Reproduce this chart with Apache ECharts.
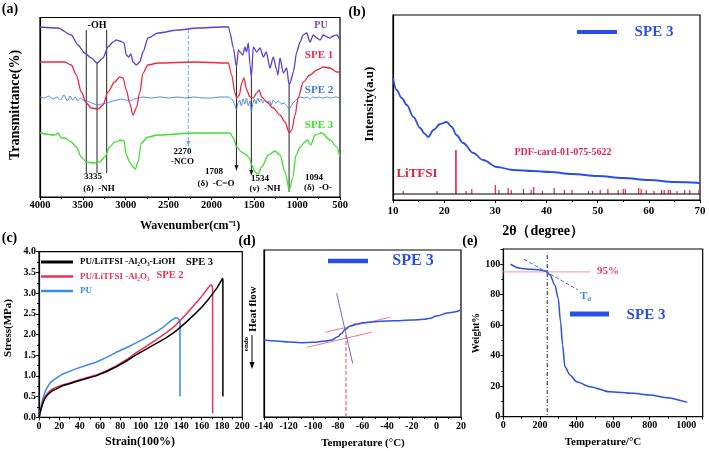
<!DOCTYPE html>
<html><head><meta charset="utf-8">
<script src="https://cdn.jsdelivr.net/npm/echarts@6/dist/echarts.min.js"></script>
<style>html,body{margin:0;padding:0;background:#fff}#c{width:709px;height:451px}</style>
</head><body><div id="c"></div>
<script>
// ---------------- (a) FTIR: [wavenumber cm-1, relative transmittance] ----------------
const ftirPU = [[4000,173],[3790,172],[3635,165],[3557,155],[3479,147],[3401,142],[3335,137],[3265,142],[3207,153],[3148,158],[3109,160],[3070,159],[3020,157],[2993,145],[2965,143],[2940,146],[2915,138],[2876,135],[2837,138],[2798,148],[2740,162],[2623,167],[2390,170],[2156,172],[1900,173],[1800,173],[1783,167],[1744,152],[1708,133],[1686,150],[1667,148],[1635,145],[1608,153],[1590,148],[1569,157],[1550,135],[1534,123],[1511,153],[1472,148],[1433,152],[1394,143],[1360,148],[1317,132],[1278,143],[1239,130],[1225,125],[1200,142],[1161,127],[1122,132],[1094,115],[1083,117],[1044,128],[1005,148],[966,158],[930,165],[889,167],[850,158],[811,165],[770,162],[733,160],[694,165],[650,163],[617,162],[580,164],[538,165],[500,160]];
const ftirSPE1 = [[4000,138],[3712,138],[3635,135],[3576,125],[3518,108],[3460,97],[3401,92],[3323,91],[3265,95],[3207,108],[3129,118],[3070,123],[3031,122],[2993,110],[2954,97],[2915,85],[2876,92],[2837,107],[2798,127],[2740,135],[2623,137],[2200,138],[1803,137],[1764,125],[1725,107],[1705,102],[1674,105],[1647,117],[1620,122],[1589,110],[1550,103],[1511,102],[1472,107],[1444,110],[1413,103],[1355,98],[1278,92],[1200,85],[1142,78],[1091,67],[1063,70],[1024,85],[986,103],[928,118],[850,125],[771,130],[694,133],[617,132],[538,128],[500,128]];
const ftirSPE2 = [[4000,103],[3950,102],[3900,104],[3850,101],[3800,103],[3760,100],[3720,105],[3680,99],[3650,104],[3620,100],[3590,103],[3560,99],[3530,102],[3500,100],[3450,99],[3400,97],[3335,95],[3280,96],[3220,97],[3150,99],[3100,100],[3050,101],[3000,100],[2950,99],[2900,101],[2850,102],[2800,103],[2700,102],[2600,103],[2500,102],[2400,103],[2300,102],[2200,103],[2100,102],[2000,102],[1900,103],[1800,103],[1760,101],[1730,96],[1708,90],[1690,97],[1670,100],[1650,94],[1630,101],[1610,96],[1590,102],[1570,94],[1550,99],[1534,88],[1515,97],[1500,101],[1480,96],[1460,102],[1440,98],[1420,101],[1400,97],[1380,100],[1350,98],[1320,99],[1300,95],[1280,100],[1250,97],[1220,99],[1180,96],[1150,97],[1120,94],[1094,91],[1070,94],[1040,98],[1000,101],[960,103],[920,102],[880,103],[850,101],[820,103],[780,102],[750,103],[700,102],[650,103],[600,102],[550,103],[500,102]];
const ftirSPE3 = [[4000,67],[3829,65],[3790,67],[3751,62],[3712,62],[3635,58],[3576,53],[3518,43],[3460,38],[3362,37],[3304,38],[3245,43],[3187,53],[3129,58],[3051,60],[3020,59],[2993,45],[2954,38],[2915,33],[2888,31],[2856,38],[2818,57],[2740,63],[2623,65],[2200,67],[1783,67],[1744,62],[1705,53],[1647,48],[1589,45],[1558,42],[1530,35],[1491,28],[1453,26],[1413,33],[1336,45],[1258,49],[1200,45],[1142,28],[1091,10],[1052,22],[1013,45],[966,53],[908,58],[881,60],[842,55],[791,65],[713,67],[617,60],[538,53],[500,43]];
const ftirPeaks = [1708, 1534, 1094];

// ---------------- (b) XRD ----------------
const xrdSPE3 = [[10,122],[10.7,110],[11.7,102],[12.7,95],[14,83],[15.3,72],[16.25,66],[16.9,63],[17.9,70],[19.2,76],[20.5,78],[21.5,73],[22.4,65],[23.7,57],[25.7,47],[27.6,40],[30.3,33],[33.5,30],[37.4,29],[40.7,28],[45,26],[50,24],[55,22],[60,20],[65,18],[70,17]];
const pdfPos = [12.0,18.6,22.3,24.3,25.4,30.0,30.7,32.5,33.1,35.5,37.0,37.5,39.2,41.5,43.5,45.0,48.2,49.0,50.5,52.0,54.0,55.0,55.4,58.0,58.5,59.5,61.0,62.5,63.0,63.8,64.2,65.5,67.0,68.0,69.8];
const pdfTop = [9,9,50,9,11,15,10,12,10,11,10,13,9,12,10,10,9,9,10,11,10,11,11,12,11,10,9,10,10,10,10,9,10,10,10];
const pdfBase = 6;

// ---------------- (c) stress-strain ----------------
const ssPU = [[0,0],[1,0.14],[2,0.26],[3.5,0.42],[5,0.55],[7,0.67],[10,0.8],[13,0.88],[16.7,0.94],[23,1.04],[30,1.11],[36,1.17],[46,1.25],[56,1.33],[66,1.44],[76,1.57],[86,1.68],[95,1.79],[105,1.92],[115,2.06],[122,2.17],[128,2.3],[132,2.37],[135,2.41],[137.5,2.37],[138.7,2.3],[138.7,0.5]];
const ssSPE2 = [[0,0],[1,0.1],[2,0.2],[3.5,0.34],[5,0.45],[7,0.54],[10,0.62],[13,0.68],[16.7,0.72],[23,0.78],[30,0.83],[36,0.88],[46,0.95],[56,1.02],[66,1.12],[76,1.24],[86,1.39],[95,1.55],[105,1.71],[115,1.87],[125,2.04],[134,2.21],[144,2.47],[154,2.75],[160,2.92],[165,3.08],[168,3.18],[170,3.2],[170.8,3.1],[170.8,0.1]];
const ssSPE3 = [[0,0],[1,0.1],[2,0.2],[3.5,0.32],[5,0.42],[7,0.5],[10,0.58],[13,0.64],[16.7,0.68],[23,0.76],[30,0.81],[36,0.86],[46,0.93],[56,1.0],[66,1.1],[76,1.22],[86,1.36],[95,1.5],[105,1.64],[115,1.78],[125,1.92],[134,2.07],[144,2.28],[154,2.51],[160,2.66],[167,2.86],[175,3.12],[180.7,3.36],[180.9,3.3],[180.9,0.5]];

// ---------------- (d) DSC ----------------
const dscSPE3 = [[-140,77],[-130,76],[-120,75],[-110,74.3],[-100,74.7],[-90,76],[-85,77],[-80,80.3],[-77,83.7],[-74,87.7],[-70,91],[-65,93],[-60,94.3],[-50,95.3],[-40,96],[-30,96.3],[-20,97],[-10,97.7],[-5,98.7],[0,101],[10,104.3],[20,107]];
const dscTangentHigh = [[-90.5,84.7],[-37.7,99.7]];
const dscTangentLow = [[-105.3,69.7],[-52.6,84.7]];
const dscSlope = [[-81,123.7],[-68,53.7]];
const dscTg = -73.4;

// ---------------- (e) TGA ----------------
const tgaSPE3 = [[40,100],[91,97.4],[146,96.7],[200,96.3],[233,95.6],[255,93],[282,86.4],[300,77.7],[313,62.3],[324,47],[337,32.8],[364,27.4],[400,23],[473,19.7],[582,16.4],[709,15.3],[800,14.2],[891,12.5],[1006,9.4]];
const tga95 = 95;
const tgaTd = 240;
const tgaTangent = [[113,103.3],[409,83.1]];

const FONT = '"Liberation Serif","Times New Roman",serif';
const BLUE = '#2a4fe4';

function xAx(g, o) {
  return Object.assign({
    type: 'value', gridIndex: g, splitLine: {show: false},
    axisLine: {onZero: false, lineStyle: {color: '#000', width: 1.2}},
    axisTick: {show: true, inside: false, length: 3, lineStyle: {color: '#000'}},
    minorTick: {show: true, splitNumber: 2, length: 2, lineStyle: {color: '#000'}},
    axisLabel: {color: '#000', fontFamily: FONT, fontWeight: 'bold', fontSize: 10, margin: 4}
  }, o);
}
function yAx(g, o) {
  return Object.assign({
    type: 'value', gridIndex: g, splitLine: {show: false},
    axisLine: {show: true, onZero: false, lineStyle: {color: '#000', width: 1.2}},
    axisTick: {show: false}, axisLabel: {show: false}
  }, o);
}
function seg(g, pts, color, width, type, arrow) {
  const data = pts.map((p, i) => {
    if (arrow && i === pts.length - 1) return {value: p, symbol: 'triangle', symbolRotate: 180, symbolSize: [4, 6], itemStyle: {color}};
    return {value: p, symbol: 'none'};
  });
  return {type: 'line', xAxisIndex: g, yAxisIndex: g, data, showSymbol: true, showAllSymbol: true,
    lineStyle: {color, width, type}, silent: true, animation: false, z: 3};
}
function curve(g, data, color, width, smooth) {
  return {type: 'line', xAxisIndex: g, yAxisIndex: g, data, symbol: 'none', smooth: smooth,
    smoothMonotone: 'x', lineStyle: {color, width}, silent: true, animation: false, z: 4};
}
function T(x, y, s, size, color, o) {
  return Object.assign({type: 'text', x, y, z: 100, style: Object.assign({
    text: s, font: 'bold ' + size + 'px ' + FONT, fill: color,
    align: 'center', verticalAlign: 'middle', textAlign: 'center', textVerticalAlign: 'middle'}, (o && o.style) || {})},
    o && o.rotation ? {rotation: o.rotation} : {});
}
function L(x1, y1, x2, y2, color, w) {
  return {type: 'line', z: 100, shape: {x1, y1, x2, y2}, style: {stroke: color, lineWidth: w}};
}

const grids = [
  {left: 40, top: 17.5, width: 300, height: 179.5},
  {left: 393, top: 15, width: 307, height: 185},
  {left: 39, top: 251.7, width: 203.3, height: 165.6},
  {left: 264, top: 250, width: 197, height: 167},
  {left: 503.3, top: 249, width: 199.4, height: 167.7}
].map(g => Object.assign(g, {show: true, borderColor: '#000', borderWidth: 1.2, containLabel: false}));

const pdfData = pdfPos.map((p, i) => [p, pdfBase, pdfTop[i]]);
const plain = v => String(v);

const option = {
  animation: false,
  backgroundColor: '#fff',
  grid: grids,
  xAxis: [
    xAx(0, {min: 500, max: 4000, interval: 500, inverse: true, axisLabel: {color: '#000', fontFamily: FONT, fontWeight: 'bold', fontSize: 10.5, margin: 3, formatter: plain}}),
    xAx(1, {min: 10, max: 70, interval: 10, axisLabel: {color: '#000', fontFamily: FONT, fontWeight: 'bold', fontSize: 11, margin: 6, formatter: plain}}),
    xAx(2, {min: 0, max: 200, interval: 20, axisLabel: {color: '#000', fontFamily: FONT, fontWeight: 'bold', fontSize: 10, margin: 4, formatter: plain}}),
    xAx(3, {min: -140, max: 20, interval: 20, axisLabel: {color: '#000', fontFamily: FONT, fontWeight: 'bold', fontSize: 10, margin: 4, formatter: plain}}),
    xAx(4, {min: 0, max: 1090, interval: 200, axisLabel: {color: '#000', fontFamily: FONT, fontWeight: 'bold', fontSize: 10, margin: 4, formatter: v => (v % 200 === 0 ? String(v) : '')}})
  ],
  yAxis: [
    yAx(0, {min: 3, max: 182.5}),
    yAx(1, {min: 0, max: 185}),
    yAx(2, {min: 0, max: 4, interval: 0.5, axisTick: {show: true, length: 3, lineStyle: {color: '#000'}},
      minorTick: {show: true, splitNumber: 2, length: 2, lineStyle: {color: '#000'}},
      axisLabel: {show: true, color: '#000', fontFamily: FONT, fontWeight: 'bold', fontSize: 10, margin: 3, formatter: v => v.toFixed(1)}}),
    yAx(3, {min: 0, max: 167}),
    yAx(4, {min: 0, max: 110, interval: 20, axisTick: {show: true, length: 3, lineStyle: {color: '#000'}},
      minorTick: {show: true, splitNumber: 2, length: 2, lineStyle: {color: '#000'}},
      axisLabel: {show: true, color: '#000', fontFamily: FONT, fontWeight: 'bold', fontSize: 10, margin: 3, formatter: v => (v % 20 === 0 ? String(v) : '')}})
  ],
  series: [
    // (a)
    seg(0, [[3460, 170], [3460, 27]], '#222', 1, 'solid'),
    seg(0, [[3335, 137], [3335, 27]], '#222', 1, 'solid'),
    seg(0, [[3222, 170], [3222, 27]], '#222', 1, 'solid'),
    seg(0, [[2270, 171], [2270, 56]], '#6aa8ec', 1, 'dashed', true),
    curve(0, ftirSPE2, '#4a88e6', 1, 0.2),
    curve(0, ftirSPE3, '#3fe02c', 1.3, 0.3),
    curve(0, ftirSPE1, '#f0283e', 1.3, 0.3),
    curve(0, ftirPU, '#5a3fd2', 1.3, 0.25),
    seg(0, [[ftirPeaks[0], 133], [ftirPeaks[0], 32]], '#222', 1, 'solid', true),
    seg(0, [[ftirPeaks[1], 123], [ftirPeaks[1], 27]], '#222', 1, 'solid', true),
    seg(0, [[ftirPeaks[2], 115], [ftirPeaks[2], 8]], '#222', 1, 'solid'),
    // (b)
    seg(1, [[10, pdfBase], [70, pdfBase]], '#000', 1.2, 'solid'),
    {type: 'custom', xAxisIndex: 1, yAxisIndex: 1, data: pdfData, encode: {x: 0, y: [1, 2]}, silent: true, animation: false, z: 3,
      renderItem: (params, api) => {
        const a = api.coord([api.value(0), api.value(1)]);
        const b = api.coord([api.value(0), api.value(2)]);
        const big = api.value(2) > 30;
        return {type: 'line', shape: {x1: a[0], y1: a[1], x2: b[0], y2: b[1]}, style: {stroke: '#ee2040', lineWidth: big ? 1.6 : 1.2}};
      }},
    curve(1, xrdSPE3, BLUE, 1.8, 0.35),
    // (c)
    curve(2, ssPU, '#3a8ae8', 1.5, false),
    curve(2, ssSPE2, '#f03050', 1.5, false),
    curve(2, ssSPE3, '#000', 1.5, false),
    // (d)
    seg(3, dscTangentHigh, '#f27a8e', 1, 'solid'),
    seg(3, dscTangentLow, '#f27a8e', 1, 'solid'),
    seg(3, dscSlope, '#8066c8', 1, 'solid'),
    seg(3, [[dscTg, 82], [dscTg, 0]], '#f04868', 1, 'dashed'),
    curve(3, dscSPE3, '#2c55e6', 1.5, 0.4),
    // (e)
    seg(4, [[0, tga95], [475, tga95]], '#f5a8b8', 1.2, 'solid'),
    seg(4, [[tgaTd, 106], [tgaTd, 0]], '#222', 1, [4, 2, 1, 2]),
    seg(4, tgaTangent, '#3f6fe6', 1, 'dashed'),
    curve(4, tgaSPE3, BLUE, 1.5, 0.3)
  ],
  graphic: [
    // panel labels
    T(10, 9, '(a)', 14, '#000'), T(357, 12, '(b)', 14, '#000'), T(9.5, 238.5, '(c)', 14, '#000'),
    T(247, 241, '(d)', 14, '#000'), T(470, 241, '(e)', 14, '#000'),
    // (a) texts
    T(15, 105, 'Transmittance(%)', 14, '#000', {rotation: Math.PI / 2}),
    T(190, 226, 'Wavenumber(cm⁻¹)', 12, '#000'),
    T(321, 25, 'PU', 10, '#7a3fcf'), T(319, 55, 'SPE 1', 11, '#f0284a'),
    T(319, 90, 'SPE 2', 11, '#3a7ae0'), T(319, 125, 'SPE 3', 11, '#3ee02a'),
    T(97, 25, '-OH', 10, '#000'),
    T(93, 177, '3335', 9, '#000'), T(99, 189, '(δ)  -NH', 9, '#000'),
    T(182.5, 152, '2270', 9, '#000'), T(182.5, 162, '-NCO', 9, '#000'),
    T(214, 172, '1708', 9, '#000'), T(216, 183.5, '(δ)  -C=O', 9, '#000'),
    T(260, 178.5, '1534', 9, '#000'), T(265, 189, '(ν)  -NH', 9, '#000'),
    T(314, 178, '1094', 9, '#000'), T(318, 188, '(δ)  -O-', 9, '#000'),
    // (b) texts
    T(370, 104, 'Intensity(a.u)', 13, '#000', {rotation: Math.PI / 2}),
    T(543, 231, '2θ（degree）', 14, '#000'),
    L(577, 32, 617, 32, BLUE, 4),
    T(654, 32, 'SPE 3', 15, BLUE),
    T(563, 152, 'PDF-card-01-075-5622', 10, '#e02850'),
    T(417, 174, 'LiTFSI', 13, '#e0203a'),
    // (c) texts
    T(8, 328, 'Stress(MPa)', 11, '#000', {rotation: Math.PI / 2}),
    T(140, 442, 'Strain(100%)', 12, '#000'),
    L(41, 262, 73, 262, '#000', 3), L(41, 276.5, 73, 276.5, '#f03050', 2.5), L(41, 291, 73, 291, '#3a8ae8', 2.5),
    T(80, 262, 'PU/LiTFSI -Al₂O₃-LiOH', 9, '#000', {style: {align: 'left', textAlign: 'left'}}),
    T(80, 277, 'PU/LiTFSI -Al₂O₃', 9, '#f03050', {style: {align: 'left', textAlign: 'left'}}),
    T(80, 291, 'PU', 9, '#3a8ae8', {style: {align: 'left', textAlign: 'left'}}),
    T(199.5, 262, 'SPE 3', 10.5, '#000'), T(170, 275, 'SPE 2', 10.5, '#f03050'),
    // (d) texts
    T(253.5, 309, 'Heat flow', 11, '#000', {rotation: Math.PI / 2}),
    T(246, 344, 'endo', 7, '#000', {rotation: Math.PI / 2}),
    L(252, 335, 252, 365, '#000', 1),
    {type: 'polygon', z: 100, shape: {points: [[249.5, 362], [254.5, 362], [252, 369]]}, style: {fill: '#000'}},
    L(328, 261, 368, 261, BLUE, 4.5),
    T(413, 261, 'SPE 3', 16, BLUE),
    T(363, 443, 'Temperature (°C)', 11, '#000'),
    // (e) texts
    T(476, 333, 'Weight%', 10, '#000', {rotation: Math.PI / 2}),
    T(603, 442, 'Temperature/°C', 11, '#000'),
    T(608, 271, '95%', 11, '#e8406a'),
    {type: 'text', x: 580, y: 296, z: 100, style: {text: '{t|T}{s|d}', rich: {t: {font: 'bold 11px ' + FONT, fill: '#3a8ae8'}, s: {font: 'bold 7px ' + FONT, fill: '#3a8ae8', padding: [6, 0, 0, 0]}}, verticalAlign: 'middle', textVerticalAlign: 'middle'}},
    L(570, 314, 609, 314, BLUE, 5),
    T(646, 315, 'SPE 3', 15, BLUE)
  ]
};
const chart = echarts.init(document.getElementById('c'), null, {renderer: 'canvas'});
chart.setOption(option);
</script></body></html>
